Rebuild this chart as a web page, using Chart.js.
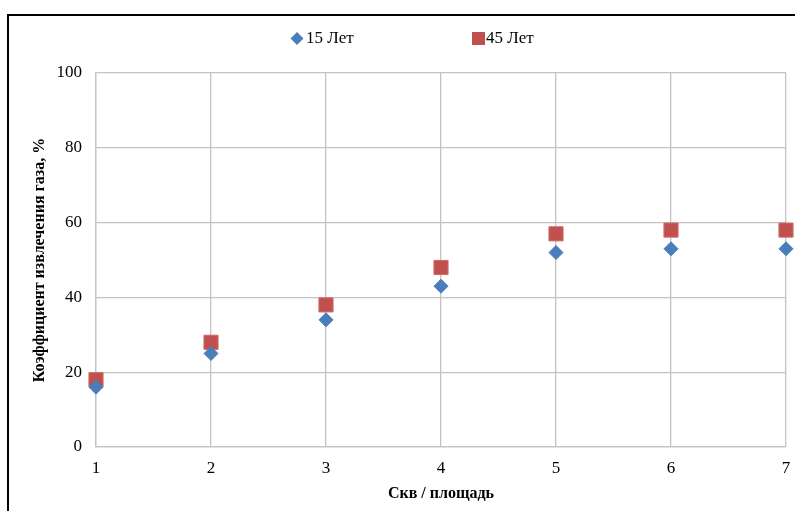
<!DOCTYPE html>
<html>
<head>
<meta charset="utf-8">
<script src="https://cdn.jsdelivr.net/npm/chart.js@4.4.1/dist/chart.umd.min.js"></script>
<style>
  html, body { margin: 0; padding: 0; background: #fff; }
  body { width: 795px; height: 511px; position: relative; overflow: hidden; }
  #frame {
    position: absolute; left: 7px; top: 14px; width: 900px; height: 600px;
    border: 2px solid #000; box-sizing: border-box;
  }
  #wrap { position: absolute; left: 0; top: 0; width: 795px; height: 511px; }
</style>
</head>
<body>
<div id="frame"></div>
<div id="wrap"><canvas id="chart" width="795" height="511"></canvas></div>
<script>
/* ---------------- Data ---------------- */
const wells = [1, 2, 3, 4, 5, 6, 7];
const years15 = [16, 25, 34, 43, 52, 53, 53];
const years45 = [18, 28, 38, 48, 57, 58, 58];
const seriesNames = ["15 Лет", "45 Лет"];
const yTicks = [0, 20, 40, 60, 80, 100];

const BLUE = "#4A7EBB";
const RED = "#C0504D";
const GRID = "#C3C3C3";
const FONT = "'Liberation Serif', 'Times New Roman', serif";

const toPoints = (vals) => wells.map((w, i) => ({ x: w, y: vals[i] }));

/* ---------------- Legend drawn like the Excel one ---------------- */
const topLegend = {
  id: "topLegend",
  afterDraw(chart) {
    const ctx = chart.ctx;
    ctx.save();
    ctx.font = "17px " + FONT;
    ctx.textBaseline = "middle";

    // diamond
    ctx.fillStyle = BLUE;
    ctx.beginPath();
    ctx.moveTo(297, 32); ctx.lineTo(303.5, 38.5); ctx.lineTo(297, 45); ctx.lineTo(290.5, 38.5);
    ctx.closePath();
    ctx.fill();
    ctx.fillStyle = "#000";
    ctx.fillText(seriesNames[0], 306, 39);

    // square
    ctx.fillStyle = RED;
    ctx.fillRect(472, 32, 13, 13);
    ctx.fillStyle = "#000";
    ctx.fillText(seriesNames[1], 486, 39);
    ctx.restore();
  }
};

/* ---------------- Chart ---------------- */
function renderChart() {
  const ctx = document.getElementById("chart");
  new Chart(ctx, {
    type: "scatter",
    data: {
      datasets: [
        {
          label: seriesNames[0],
          data: toPoints(years15),
          pointStyle: "rectRot",
          pointRadius: 7,
          pointHoverRadius: 7,
          backgroundColor: BLUE,
          borderColor: BLUE,
          borderWidth: 1,
          clip: false
        },
        {
          label: seriesNames[1],
          data: toPoints(years45),
          pointStyle: "rect",
          pointRadius: 10,
          pointHoverRadius: 10,
          backgroundColor: RED,
          borderColor: "#D06A67",
          borderWidth: 1,
          clip: false
        }
      ]
    },
    options: {
      responsive: false,
      animation: false,
      layout: { autoPadding: false, padding: { left: 0, top: 73, right: 9, bottom: 0 } },
      plugins: { legend: { display: false }, tooltip: { enabled: false } },
      scales: {
        x: {
          type: "linear",
          min: 1,
          max: 7,
          afterFit: (s) => { s.height = 64; s.paddingLeft = 0; s.paddingRight = 0; },
          afterBuildTicks: (s) => { s.ticks = wells.map((v) => ({ value: v })); },
          grid: { color: GRID, lineWidth: 1.3, drawTicks: false },
          border: { color: GRID, width: 1.3 },
          ticks: { color: "#000", padding: 11, font: { family: FONT, size: 17 } },
          title: {
            display: true,
            text: "Скв / площадь",
            color: "#000",
            font: { family: FONT, size: 16, weight: "bold" },
            padding: { top: 0, bottom: 8 }
          }
        },
        y: {
          min: 0,
          max: 100,
          afterFit: (s) => { s.width = 96; s.paddingTop = 0; s.paddingBottom = 0; },
          afterBuildTicks: (s) => { s.ticks = yTicks.map((v) => ({ value: v })); },
          grid: { color: GRID, lineWidth: 1.3, drawTicks: false },
          border: { color: GRID, width: 1.3 },
          ticks: { color: "#000", padding: 14, font: { family: FONT, size: 17 } },
          title: {
            display: true,
            text: "Коэффициент извлечения газа, %",
            color: "#000",
            font: { family: FONT, size: 16, weight: "bold" },
            padding: { top: 30, bottom: 0 }
          }
        }
      }
    },
    plugins: [topLegend]
  });
}

document.addEventListener("DOMContentLoaded", renderChart);
</script>
</body>
</html>
